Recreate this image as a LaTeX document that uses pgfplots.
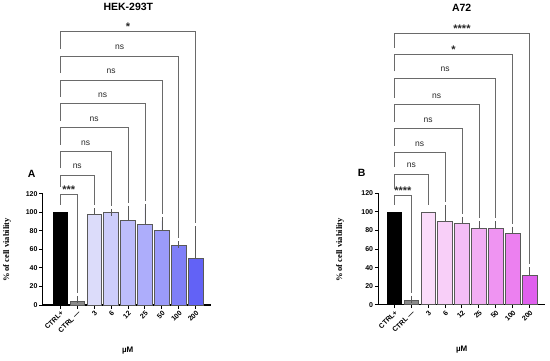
\documentclass[border=0pt]{standalone}
\usepackage{pgfplots}
\pgfplotsset{compat=1.18}
\usepackage{fontspec}
\setmainfont{Liberation Sans}
\newfontfamily\serifbold{Liberation Serif}
\definecolor{ctrlm}{HTML}{8A8A8A}
\definecolor{a3}{HTML}{DCDCFA}
\definecolor{a6}{HTML}{CDCDFB}
\definecolor{a12}{HTML}{BDBDFC}
\definecolor{a25}{HTML}{ADADFB}
\definecolor{a50}{HTML}{9B9BFA}
\definecolor{a100}{HTML}{7F7FF8}
\definecolor{a200}{HTML}{6262F6}
\definecolor{b3}{HTML}{FADCFA}
\definecolor{b6}{HTML}{F8CFF8}
\definecolor{b12}{HTML}{F4BDF6}
\definecolor{b25}{HTML}{F2AEF4}
\definecolor{b50}{HTML}{EF94F2}
\definecolor{b100}{HTML}{EC80F0}
\definecolor{b200}{HTML}{E060EE}
\definecolor{brk}{HTML}{6A6A6A}
\newcommand{\sig}[7]{%
  \draw[brk, line width=0.7pt] (axis cs:#1,#4) -- (axis cs:#1,#3) -- (axis cs:#2,#3) -- (axis cs:#2,#5);
  \node[anchor=base, inner sep=0pt, font=\fontsize{8.5}{9}\selectfont, text=black!80] at (axis cs:#6,#3) [yshift=#7] {#7ZZ};
}
\renewcommand{\sig}[7]{%
  \draw[brk, line width=0.7pt] (axis cs:#1,#4) -- (axis cs:#1,#3) -- (axis cs:#2,#3) -- (axis cs:#2,#5);
  \node[anchor=base, inner sep=0pt, text=black!80, yshift=#7] at (axis cs:#6,#3) {#6};
}
\newcommand{\NS}{\fontsize{8.5}{9}\selectfont ns}
\newcommand{\st}[1]{\fontsize{11}{11}\selectfont\bfseries #1}
\newcommand{\sg}[7]{%
  \draw[brk, line width=0.7pt] (axis cs:#1,#4) -- (axis cs:#1,#3) -- (axis cs:#2,#3) -- (axis cs:#2,#5);
  \node[anchor=base, inner sep=0pt, text=black!85, yshift=#7] at (axis cs:#2/2,#3) {#6};
}
\pgfplotsset{panel/.style={
  scale only axis, height=111.3pt, ymin=0, ymax=120, clip=false,
  axis lines*=left, axis line style={line width=1.1pt, black},
  ytick={0,20,...,120}, xtick={0,...,8},
  xticklabels={CTRL+,CTRL —,3,6,12,25,50,100,200},
  tick align=outside, major tick length=3.5pt,
  tick style={line width=1pt, black},
  ticklabel style={font=\fontsize{7}{8}\selectfont\bfseries},
  yticklabel style={inner sep=1.5pt},
  xticklabel style={rotate=45, anchor=north east, inner sep=1pt},
  /pgf/number format/assume math mode=true,
  ybar, bar width=0.87, bar shift=0pt,
  every axis plot/.append style={draw=black!65, line width=0.6pt},
  },
  eb/.style={error bars/.cd, y dir=plus, y explicit,
    error bar style={draw=black!65, line width=0.7pt},
    error mark options={black!65, mark size=3.5pt, line width=0.7pt}},
}
\begin{document}
\begin{tikzpicture}[x=1pt,y=1pt]
\useasboundingbox (0,0) rectangle (550,360);
% ---------- Panel A ----------
\begin{axis}[panel, at={(42.7pt,55pt)}, anchor=south west,
  width=168.3pt, xmin=-1.04, xmax=8.9]
\addplot[fill=black, draw=black] coordinates {(0,100)};
\addplot[fill=ctrlm, eb] coordinates {(1,4.3) +- (0,1.3)};
\addplot[fill=a3, eb] coordinates {(2,98.2) +- (0,2.2)};
\addplot[fill=a6, eb] coordinates {(3,99.5) +- (0,0.5)};
\addplot[fill=a12, eb] coordinates {(4,91.5) +- (0,12)};
\addplot[fill=a25, eb] coordinates {(5,87) +- (0,18)};
\addplot[fill=a50, eb] coordinates {(6,81) +- (0,10)};
\addplot[fill=a100, eb] coordinates {(7,64) +- (0,1)};
\addplot[fill=a200, eb] coordinates {(8,50) +- (0,31)};
\sg{0}{1}{119.4}{108}{13}{\st{***}}{1pt}
\sg{0}{2}{140.2}{127}{107.5}{\NS}{6.5pt}
\sg{0}{3}{165.3}{147.7}{107}{\NS}{6.5pt}
\sg{0}{4}{191.1}{172.8}{110}{\NS}{6.5pt}
\sg{0}{5}{217}{198.6}{112}{\NS}{6.5pt}
\sg{0}{6}{242.6}{224.5}{98}{\NS}{6.5pt}
\sg{0}{7}{268.5}{250}{72}{\NS}{6.5pt}
\sg{0}{8}{294.7}{276}{88}{\st{*}}{1pt}
\end{axis}
% ---------- Panel B ----------
\begin{axis}[panel, at={(378.3pt,55.3pt)}, anchor=south west,
  width=166.5pt, xmin=-0.95, xmax=8.9]
\addplot[fill=black, draw=black] coordinates {(0,100)};
\addplot[fill=ctrlm, eb] coordinates {(1,4.5) +- (0,1.4)};
\addplot[fill=b3] coordinates {(2,99.8)};
\addplot[fill=b6, eb] coordinates {(3,89.8) +- (0,14)};
\addplot[fill=b12, eb] coordinates {(4,87.5) +- (0,3.5)};
\addplot[fill=b25, eb] coordinates {(5,82.5) +- (0,3.5)};
\addplot[fill=b50, eb] coordinates {(6,82.5) +- (0,3.5)};
\addplot[fill=b100, eb] coordinates {(7,77.5) +- (0,3)};
\addplot[fill=b200, eb] coordinates {(8,32) +- (0,4.6)};
\sg{0}{1}{117.5}{108}{13}{\st{****}}{1pt}
\sg{0}{2}{140.9}{125}{107}{\NS}{6.5pt}
\sg{0}{3}{164}{148.4}{111}{\NS}{6.5pt}
\sg{0}{4}{189.8}{171.5}{98}{\NS}{6.5pt}
\sg{0}{5}{215.7}{197.3}{93}{\NS}{6.5pt}
\sg{0}{6}{244}{223.2}{93}{\NS}{6.5pt}
\sg{0}{7}{269.8}{251.5}{87.5}{\st{*}}{1pt}
\sg{0}{8}{292.5}{277.3}{44}{\st{****}}{1pt}
\end{axis}
% ---------- Texts ----------
\node[font=\fontsize{10.5}{12}\selectfont\bfseries] at (128.3,352.7) {HEK-293T};
\node[font=\fontsize{10.5}{12}\selectfont\bfseries] at (461.7,351.7) {A72};
\node[font=\fontsize{10.5}{12}\selectfont\bfseries] at (31.7,186) {A};
\node[font=\fontsize{10.5}{12}\selectfont\bfseries] at (361.7,187) {B};
\node[font=\fontsize{8}{9}\selectfont\bfseries] at (127.7,9) {µM};
\node[font=\fontsize{8}{9}\selectfont\bfseries] at (461.7,10) {µM};
\node[rotate=90, font=\serifbold\fontsize{8.5}{9}\selectfont\bfseries] at (7,110) {\% of cell viability};
\node[rotate=90, font=\serifbold\fontsize{8.5}{9}\selectfont\bfseries] at (340,110) {\% of cell viability};
\end{tikzpicture}
\end{document}
